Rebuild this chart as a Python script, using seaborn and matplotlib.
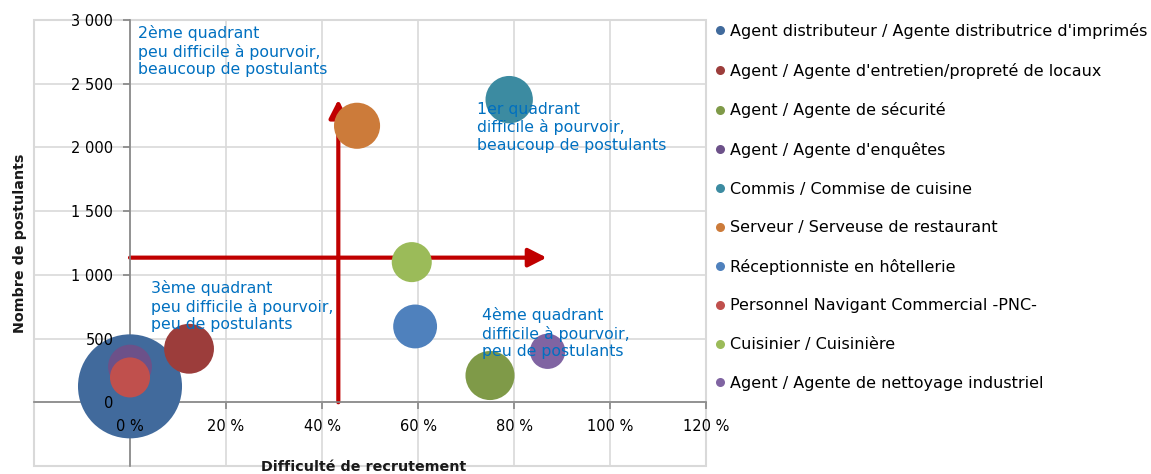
import pandas as pd
import matplotlib
matplotlib.use("Agg")
import matplotlib.pyplot as plt
from matplotlib.lines import Line2D
from matplotlib.patches import Rectangle
from matplotlib.ticker import FuncFormatter
import seaborn as sns

sns.set_theme(style="white")
plt.rcParams['font.family'] = ['DejaVu Sans']

# Données
metiers = [
    "Agent distributeur / Agente distributrice d'imprimés",
    "Agent / Agente d'entretien/propreté de locaux",
    "Agent / Agente de sécurité",
    "Agent / Agente d'enquêtes",
    "Commis / Commise de cuisine",
    "Serveur / Serveuse de restaurant",
    "Réceptionniste en hôtellerie",
    "Personnel Navigant Commercial -PNC-",
    "Cuisinier / Cuisinière",
    "Agent / Agente de nettoyage industriel",
]
difficulte = [0, 12.3, 75, 0, 79, 47.3, 59.4, 0, 58.7, 87]
postulants = [125, 420, 210, 280, 2375, 2170, 595, 195, 1100, 400]
taille = [2700, 620, 600, 480, 560, 530, 480, 400, 400, 310]
couleurs = ["#416A9C", "#9C3D3B", "#7F9A48", "#6C5189", "#3C8BA1",
            "#CC7B3A", "#4F81BD", "#C0504D", "#9BBB59", "#8064A2"]

quadrants = [
    "2ème quadrant\npeu difficile à pourvoir,\nbeaucoup de postulants",
    "1er quadrant\ndifficile à pourvoir,\nbeaucoup de postulants",
    "3ème quadrant\npeu difficile à pourvoir,\npeu de postulants",
    "4ème quadrant\ndifficile à pourvoir,\npeu de postulants",
]
quadrant_x = [1.7, 72.3, 4.4, 73.3]
quadrant_y = [2960, 2360, 960, 745]

# flèches de séparation
seuil_difficulte = 43.4
fin_fleche_y = 2375
seuil_postulants = 1135
fin_fleche_x = 86.8

x_ticks = [0, 20, 40, 60, 80, 100, 120]
y_ticks = [0, 500, 1000, 1500, 2000, 2500, 3000]

df = pd.DataFrame({"metier": metiers, "difficulte": difficulte,
                   "postulants": postulants, "taille": taille})
palette = dict(zip(metiers, couleurs))

fig = plt.figure(figsize=(11.51, 4.74), dpi=100)
rect = [34 / 1151, 8 / 474, 672 / 1151, 446 / 474]
ax = fig.add_axes(rect)

ax.set_xlim(-20, 120)
ax.set_ylim(-500, 3000)
ax.set_xticks(x_ticks)
ax.set_yticks(y_ticks)
ax.grid(True, color="#D9D9D9", linewidth=1.2)
ax.set_axisbelow(True)

# arrows (behind the bubbles)
arrow_kw = dict(arrowstyle="-|>,head_length=0.55,head_width=0.28", color="#C00000",
                lw=3, mutation_scale=20, shrinkA=0, shrinkB=0)
ax.annotate("", xy=(seuil_difficulte, fin_fleche_y), xytext=(seuil_difficulte, 0),
            arrowprops=arrow_kw, zorder=2)
ax.annotate("", xy=(fin_fleche_x, seuil_postulants), xytext=(0, seuil_postulants),
            arrowprops=arrow_kw, zorder=2)

sns.scatterplot(data=df, x="difficulte", y="postulants", hue="metier", palette=palette,
                size="taille", sizes=(0, 5610), size_norm=(0, 2700),
                linewidth=0, alpha=1, legend=False, ax=ax, zorder=3)
ax.set_xlabel("")
ax.set_ylabel("")

for txt, qx, qy in zip(quadrants, quadrant_x, quadrant_y):
    ax.text(qx, qy, txt, color="#0070C0", fontsize=11.3, va="top", ha="left",
            linespacing=1.2, zorder=4)

# spines: axes crossing at zero, light frame around
for s in ["top", "right"]:
    ax.spines[s].set_visible(False)
ax.spines["left"].set_position(("data", 0))
ax.spines["bottom"].set_position(("data", 0))
for s in ["left", "bottom"]:
    ax.spines[s].set_color("#868686")
    ax.spines[s].set_linewidth(1.2)
ax.add_patch(Rectangle((0, 0), 1, 1, transform=ax.transAxes, fill=False,
                       edgecolor="#D9D9D9", linewidth=1.5, zorder=0.5, clip_on=False))
ax.tick_params(axis="both", which="both", direction="out", length=5, width=1.2,
               color="#868686", left=True, bottom=True,
               labelleft=False, labelbottom=False)

# overlay axes carrying the tick labels, drawn above the bubbles
ax2 = fig.add_axes(rect, sharex=ax, sharey=ax)
ax2.patch.set_visible(False)
ax2.grid(False)
for s in ["top", "right"]:
    ax2.spines[s].set_visible(False)
for s in ["left", "bottom"]:
    ax2.spines[s].set_position(("data", 0))
    ax2.spines[s].set_color("none")
ax2.tick_params(axis="both", which="both", length=0, labelsize=10.5,
                labelcolor="black", left=True, bottom=True)
ax2.tick_params(axis="y", pad=12)
ax2.tick_params(axis="x", pad=12)
ax2.xaxis.set_major_formatter(FuncFormatter(lambda v, p: f"{int(v)} %"))
ax2.yaxis.set_major_formatter(FuncFormatter(lambda v, p: f"{int(v):,}".replace(",", " ")))

ax2.set_xlabel("Difficulté de recrutement", fontsize=10.3, fontweight="bold", color="#1a1a1a")
ax2.set_ylabel("Nombre de postulants", fontsize=10.3, fontweight="bold", color="#1a1a1a")
ax2.xaxis.set_label_coords(0.49, 0.014)
ax2.yaxis.set_label_coords(-0.0104, 0.5)

handles = [Line2D([], [], marker="o", linestyle="", markersize=6.5,
                  markerfacecolor=c, markeredgewidth=0) for c in couleurs]
fig.legend(handles, metiers, loc="upper left", bbox_to_anchor=(714 / 1151, 1 - 23 / 474),
           frameon=False, fontsize=11.5, handlelength=0.8, handletextpad=0.2,
           labelspacing=1.48, borderpad=0, borderaxespad=0, labelcolor="black")

fig.savefig("out.png", dpi=100)
